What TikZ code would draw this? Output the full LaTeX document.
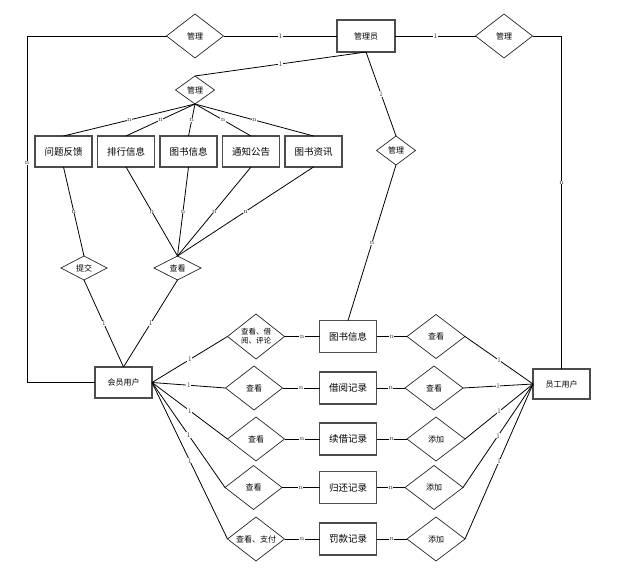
\documentclass[tikz,border=0pt]{standalone}
\usepackage{fontspec}
\newfontfamily\cjk{Noto Sans CJK SC}
\usetikzlibrary{shapes.geometric}
\begin{document}
\begin{tikzpicture}[x=1pt,y=-1pt,
  ent/.style={draw=black!70, line width=1.1pt, minimum width=57pt, minimum height=31pt, inner sep=0pt, outer sep=0pt, font=\cjk\fontsize{9.5}{11}\selectfont},
  ents/.style={ent, font=\cjk\fontsize{8}{9}\selectfont},
  rel/.style={diamond, aspect=1.3, draw=black!85, line width=0.7pt, inner sep=0pt, outer sep=0pt, font=\cjk\fontsize{8}{9.5}\selectfont, align=center},
  big/.style={rel, minimum width=57pt, minimum height=44pt},
  lab/.style={fill=white, inner sep=0.3pt, text=black!80, font=\fontsize{7}{7}\selectfont},
  ln/.style={line width=0.8pt}]
\useasboundingbox (0,0) rectangle (629,577);

% top row
\node[big] (m1) at (195,36) {管理};
\node[ents, minimum width=58pt, minimum height=32pt] (gly) at (366,36) {管理员};
\node[big] (m3) at (504,36) {管理};
\node[rel, aspect=1.4, minimum width=39pt, minimum height=28pt] (m2) at (195,90) {管理};
\node[rel, aspect=1.4, minimum width=39pt, minimum height=29pt] (m4) at (396,150.5) {管理};

% info boxes
\node[ent] (wt) at (63.5,151.5) {问题反馈};
\node[ent] (ph) at (126,151.5) {排行信息};
\node[ent] (ts) at (188.5,151.5) {图书信息};
\node[ent] (tz) at (251,151.5) {通知公告};
\node[ent] (zx) at (313.5,151.5) {图书资讯};

\node[rel, aspect=1.9, minimum width=46pt, minimum height=24pt] (tj) at (84,268) {提交};
\node[rel, aspect=1.9, minimum width=47pt, minimum height=24pt] (ck) at (177.5,268) {查看};

\node[ents] (hy) at (123.5,382.5) {会员用户};
\node[ents, minimum height=30pt] (yg) at (561.5,384) {员工用户};

% rows
\node[big, minimum height=45pt, font=\cjk\fontsize{7.5}{9}\selectfont] (l1) at (256,336.5) {查看、借\\阅、评论};
\node[big] (l2) at (254,388) {查看};
\node[big] (l3) at (256,439) {查看};
\node[big] (l4) at (253.5,487.5) {查看};
\node[big] (l5) at (256,539) {查看、支付};

\node[ent, minimum height=32pt] (b1) at (348,336.5) {图书信息};
\node[ent, minimum height=32pt] (b2) at (348,388) {借阅记录};
\node[ent, minimum height=32pt] (b3) at (348,439) {续借记录};
\node[ent, minimum height=32pt] (b4) at (348,487.5) {归还记录};
\node[ent, minimum height=32pt] (b5) at (348,539) {罚款记录};

\node[big, minimum width=58pt] (r1) at (436,336.5) {查看};
\node[big, minimum width=58pt] (r2) at (434,388) {查看};
\node[big, minimum width=58pt] (r3) at (436,439) {添加};
\node[big, minimum width=58pt] (r4) at (434,487.5) {添加};
\node[big, minimum width=58pt] (r5) at (436,539) {添加};

\coordinate (lx) at (27,36);

% connectors
\draw[ln] (m1.east) -- node[lab]{1} (gly.west);
\draw[ln] (gly.east) -- node[lab]{1} (m3.west);
\draw[ln] (m1.west) -- (lx) -- node[lab,pos=0.367]{n} (lx |- hy.west) -- (hy.west);
\draw[ln] (m3.east) -| node[lab,pos=0.72]{n} (yg.north);
\draw[ln] (gly.south) -- node[lab]{1} (m2.north);
\draw[ln] (gly.south) -- node[lab]{1} (m4.north);
\draw[ln] (m4.south) -- node[lab]{n} (b1.north);
\foreach \b in {wt,ph,ts,tz,zx} \draw[ln] (m2.south) -- node[lab]{n} (\b.north);
\draw[ln] (wt.south) -- node[lab]{n} (tj.north);
\foreach \b in {ph,ts,tz,zx} \draw[ln] (\b.south) -- node[lab]{n} (ck.north);
\draw[ln] (tj.south) -- node[lab]{1} (hy.north);
\draw[ln] (ck.south) -- node[lab]{1} (hy.north);
\foreach \i in {1,...,5} {
  \draw[ln] (hy.east) -- node[lab]{1} (l\i.west);
  \draw[ln] (l\i.east) -- node[lab]{n} (b\i.west);
  \draw[ln] (b\i.east) -- node[lab]{n} (r\i.west);
  \draw[ln] (r\i.east) -- node[lab]{1} (yg.west);
}
\end{tikzpicture}
\end{document}
